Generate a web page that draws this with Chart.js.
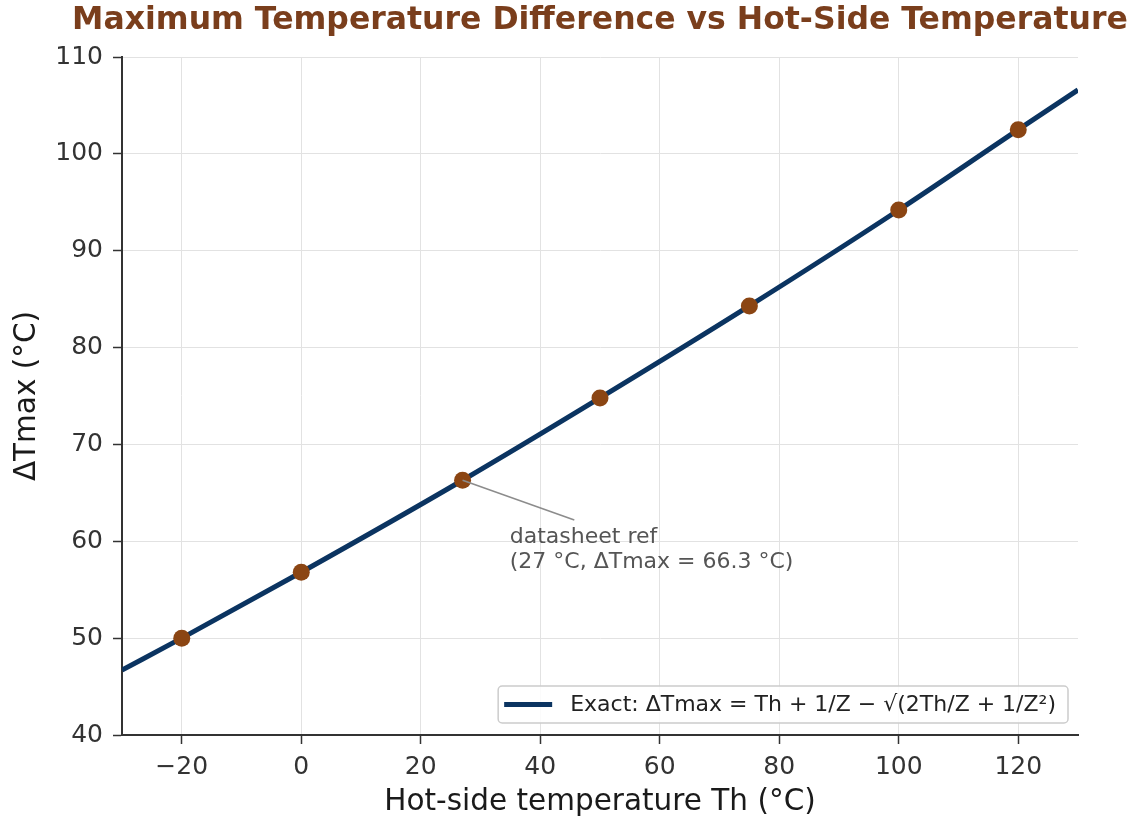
<!DOCTYPE html>
<html>
<head>
<meta charset="utf-8">
<script src="https://cdn.jsdelivr.net/npm/chart.js@4.4.1/dist/chart.umd.min.js"></script>
<style>
  html, body { margin: 0; padding: 0; background: #ffffff; }
  #wrap { width: 1140px; height: 820px; position: relative; }
</style>
</head>
<body>
<div id="wrap"><canvas id="c" width="1140" height="820"></canvas></div>
<script>
// ---- Data ----
const lineTh = [-30, -20, 0, 27, 50, 75, 100, 120, 130];
const lineDT = [46.7, 50.0, 56.8, 66.3, 74.8, 84.3, 94.2, 102.5, 106.6];
const markerTh = [-20, 0, 27, 50, 75, 100, 120];
const markerDT = [50.0, 56.8, 66.3, 74.8, 84.3, 94.2, 102.5];
const xTickValues = [-20, 0, 20, 40, 60, 80, 100, 120];
const yTickValues = [40, 50, 60, 70, 80, 90, 100, 110];
const xRange = [-30, 130];
const yRange = [40, 110];

const titleText = 'Maximum Temperature Difference vs Hot-Side Temperature';
const xLabel = 'Hot-side temperature Th (°C)';
const yLabel = 'ΔTmax (°C)';
const lineLabel = 'Exact: ΔTmax = Th + 1/Z − √(2Th/Z + 1/Z²)';
const annPoint = [27, 66.3];
const annTextPos = [34.9, 61.5];
const annArrowEnd = [45.7, 62.2];
const annLines = ['datasheet ref', '(27 °C, ΔTmax = 66.3 °C)'];

const FONT = '"DejaVu Sans", "Liberation Sans", sans-serif';

const lineData = lineTh.map((x, i) => ({ x, y: lineDT[i] }));
const markerData = markerTh.map((x, i) => ({ x, y: markerDT[i] }));

const decorPlugin = {
  id: 'decor',
  afterDraw(chart) {
    const ctx = chart.ctx;
    const ca = chart.chartArea;
    const xs = chart.scales.x, ys = chart.scales.y;
    ctx.save();
    // Title centred over the axes
    ctx.fillStyle = '#7a3e1c';
    ctx.font = 'bold 31.5px ' + FONT;
    ctx.textAlign = 'center';
    ctx.textBaseline = 'middle';
    ctx.fillText(titleText, (ca.left + ca.right) / 2, 21);

    // Annotation
    const px = xs.getPixelForValue(annPoint[0]);
    const py = ys.getPixelForValue(annPoint[1]);
    const ex = xs.getPixelForValue(annArrowEnd[0]);
    const ey = ys.getPixelForValue(annArrowEnd[1]);
    ctx.strokeStyle = '#8c8c8c';
    ctx.lineWidth = 1.5;
    ctx.beginPath();
    ctx.moveTo(px, py);
    ctx.lineTo(ex, ey);
    ctx.stroke();
    ctx.fillStyle = '#555555';
    ctx.font = '22px ' + FONT;
    ctx.textAlign = 'left';
    ctx.textBaseline = 'top';
    const tx = xs.getPixelForValue(annTextPos[0]);
    const ty = ys.getPixelForValue(annTextPos[1]);
    annLines.forEach((t, i) => ctx.fillText(t, tx, ty + i * 25));

    // Legend (inside lower right)
    const ds = chart.data.datasets[0];
    ctx.font = '22px ' + FONT;
    const tw = ctx.measureText(ds.label).width;
    const boxH = 37;
    const boxW = 6 + 48 + 18 + tw + 12;
    const bx = ca.right - 10 - boxW;
    const by = ca.bottom - 12 - boxH;
    ctx.fillStyle = 'rgba(255,255,255,0.85)';
    ctx.strokeStyle = '#cccccc';
    ctx.lineWidth = 1.5;
    ctx.beginPath();
    ctx.roundRect(bx, by, boxW, boxH, 4);
    ctx.fill();
    ctx.stroke();
    ctx.strokeStyle = ds.borderColor;
    ctx.lineWidth = 5;
    ctx.beginPath();
    ctx.moveTo(bx + 6, by + boxH / 2);
    ctx.lineTo(bx + 54, by + boxH / 2);
    ctx.stroke();
    ctx.fillStyle = '#222222';
    ctx.textBaseline = 'middle';
    ctx.fillText(ds.label, bx + 72, by + boxH / 2 + 1);
    ctx.restore();
  }
};

new Chart(document.getElementById('c'), {
  type: 'scatter',
  data: {
    datasets: [
      {
        label: lineLabel,
        data: lineData,
        showLine: true,
        borderColor: '#0b3461',
        borderWidth: 5,
        pointRadius: 0,
        cubicInterpolationMode: 'monotone',
        order: 2
      },
      {
        label: 'markers',
        data: markerData,
        showLine: false,
        pointRadius: 8.5,
        pointBackgroundColor: '#8b4513',
        pointBorderColor: '#8b4513',
        pointBorderWidth: 0,
        order: 1
      }
    ]
  },
  options: {
    responsive: false,
    animation: false,
    layout: { padding: { left: 0, right: 62, top: 57, bottom: 0 } },
    plugins: {
      legend: { display: false },
      title: { display: false },
      tooltip: { enabled: false }
    },
    scales: {
      x: {
        type: 'linear',
        min: xRange[0],
        max: xRange[1],
        afterBuildTicks: (s) => { s.ticks = xTickValues.map(v => ({ value: v })); },
        afterFit: (s) => { s.height = 85; },
        grid: { color: '#e2e2e2', lineWidth: 1, tickLength: 9, tickColor: '#333333', tickWidth: 1.5 },
        border: { display: true, color: '#333333', width: 2 },
        ticks: {
          font: { family: FONT, size: 25 },
          color: '#333333',
          padding: 8,
          maxRotation: 0,
          callback: (v) => (v < 0 ? '\u2212' + Math.abs(v) : String(v))
        },
        title: {
          display: true,
          text: xLabel,
          font: { family: FONT, size: 29.5 },
          color: '#1a1a1a',
          padding: { top: 0, bottom: 0 }
        }
      },
      y: {
        type: 'linear',
        min: yRange[0],
        max: yRange[1],
        afterBuildTicks: (s) => { s.ticks = yTickValues.map(v => ({ value: v })); },
        afterFit: (s) => { s.width = 122; },
        grid: { color: '#e2e2e2', lineWidth: 1, tickLength: 9, tickColor: '#333333', tickWidth: 1.5 },
        border: { display: true, color: '#333333', width: 2 },
        ticks: {
          font: { family: FONT, size: 25 },
          color: '#333333',
          padding: 10,
          callback: (v) => String(v)
        },
        title: {
          display: true,
          text: yLabel,
          font: { family: FONT, size: 29.5 },
          color: '#1a1a1a',
          padding: { top: 10, bottom: 0 }
        }
      }
    }
  },
  plugins: [decorPlugin]
});
</script>
</body>
</html>
